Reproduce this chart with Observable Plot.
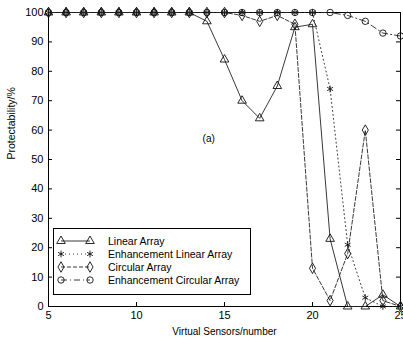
<!DOCTYPE html>
<html><head><meta charset="utf-8">
<script src="https://cdn.jsdelivr.net/npm/d3@7"></script>
<script src="https://cdn.jsdelivr.net/npm/@observablehq/plot@0.6"></script>
<style>
body{margin:0;background:#fff;}
#wrap{position:relative;width:403px;height:338px;font-family:"Liberation Sans",Arial,sans-serif;}
#wrap svg{display:block;}
#legend{position:absolute;left:53px;top:228px;}
</style></head><body><div id="wrap"></div>
<script>
const sensors = [5,6,7,8,9,10,11,12,13,14,15,16,17,18,19,20,21,22,23,24,25];
const linearArray = [100,100,100,100,100,100,100,100,100,97,84,70,64,75,95,96,23,0,0,4,0];
const enhLinearArray = [100,100,100,100,100,100,100,100,100,100,100,100,100,100,100,100,74,21,3,0,0];
const circularArray = [100,100,100,100,100,100,100,100,100,100,100,99,97,99,96,13,2,18,60,2,0];
const enhCircularArray = [100,100,100,100,100,100,100,100,100,100,100,100,100,100,100,100,100,99,97,93,92];
const seriesNames = ["Linear Array","Enhancement Linear Array","Circular Array","Enhancement Circular Array"];
const xTicks = [5,10,15,20,25];
const yTicks = [0,10,20,30,40,50,60,70,80,90,100];
const xLabel = "Virtual Sensors/number";
const yLabel = "Protectability/%";
const panelTag = "(a)";

const seriesValues = [linearArray, enhLinearArray, circularArray, enhCircularArray];
const styles = [
  {symbol:"triangle", dash:null},
  {symbol:"asterisk", dash:"1,3"},
  {symbol:"diamond", dash:"4,2"},
  {symbol:"circle", dash:"6,3,1,3"}
];
const rows = [];
seriesNames.forEach((name,i)=>sensors.forEach((s,j)=>rows.push({series:name, idx:i, x:s, y:seriesValues[i][j]})));

const marks = [
  Plot.frame({stroke:"#000", strokeWidth:1}),
  Plot.tickY(yTicks, {y:d=>d, insetRight:348, stroke:"#000"}),
  Plot.tickY(yTicks, {y:d=>d, insetLeft:348, stroke:"#000"}),
  Plot.tickX(xTicks, {x:d=>d, insetTop:290, stroke:"#000"}),
  Plot.tickX(xTicks, {x:d=>d, insetBottom:290, stroke:"#000"}),
  Plot.axisX({ticks:xTicks, tickSize:0, tickPadding:5, fontSize:11, label:null}),
  Plot.axisY({ticks:yTicks, tickSize:0, tickPadding:5, fontSize:11, label:null}),
  Plot.text([xLabel], {text:d=>d, frameAnchor:"bottom", dy:28, fontSize:10}),
  Plot.text([yLabel], {text:d=>d, frameAnchor:"left", rotate:-90, dx:-37, fontSize:10.5}),
  Plot.text([panelTag], {text:d=>d, x:()=>14.1, y:()=>57, fontSize:10})
];
seriesNames.forEach((name,i)=>{
  const d = rows.filter(r=>r.idx===i);
  marks.push(Plot.line(d, {x:"x", y:"y", stroke:"#222", strokeWidth:0.9, strokeDasharray:styles[i].dash}));
  marks.push(Plot.dot(d, {x:"x", y:"y", symbol:()=>styles[i].symbol, r:3.2, stroke:"#111", strokeWidth:0.9, fill:"none"}));
});

const chart = Plot.plot({
  width:403, height:338,
  marginLeft:48, marginRight:3, marginTop:12, marginBottom:32,
  style:{fontFamily:"'Liberation Sans', Arial, sans-serif", color:"#000", background:"#fff"},
  x:{domain:[5,25]},
  y:{domain:[0,100]},
  symbol:{type:"identity"},
  marks
});
document.getElementById("wrap").appendChild(chart);

// Legend
const lw = 198, lh = 67;
const leg = d3.select("#wrap").append("svg").attr("id","legend").attr("width",lw).attr("height",lh);
leg.append("rect").attr("x",0.5).attr("y",0.5).attr("width",lw-1).attr("height",lh-1).attr("fill","#fff").attr("stroke","#000");
const symMap = {triangle:d3.symbolTriangle, asterisk:d3.symbolAsterisk, diamond:d3.symbolDiamond, circle:d3.symbolCircle};
seriesNames.forEach((name,i)=>{
  const y = 13 + i*13;
  const g = leg.append("g");
  g.append("line").attr("x1",8).attr("x2",37).attr("y1",y).attr("y2",y).attr("stroke","#222").attr("stroke-width",0.9).attr("stroke-dasharray",styles[i].dash);
  [8,37].forEach(x=>{
    g.append("path").attr("d", d3.symbol(symMap[styles[i].symbol], 3.2*3.2*Math.PI)()).attr("transform",`translate(${x},${y})`).attr("fill","none").attr("stroke","#111").attr("stroke-width",0.9);
  });
  g.append("text").attr("x",55).attr("y",y).attr("dy","0.35em").attr("font-size",10.5).attr("font-family","'Liberation Sans', Arial, sans-serif").text(name);
});
</script></body></html>
